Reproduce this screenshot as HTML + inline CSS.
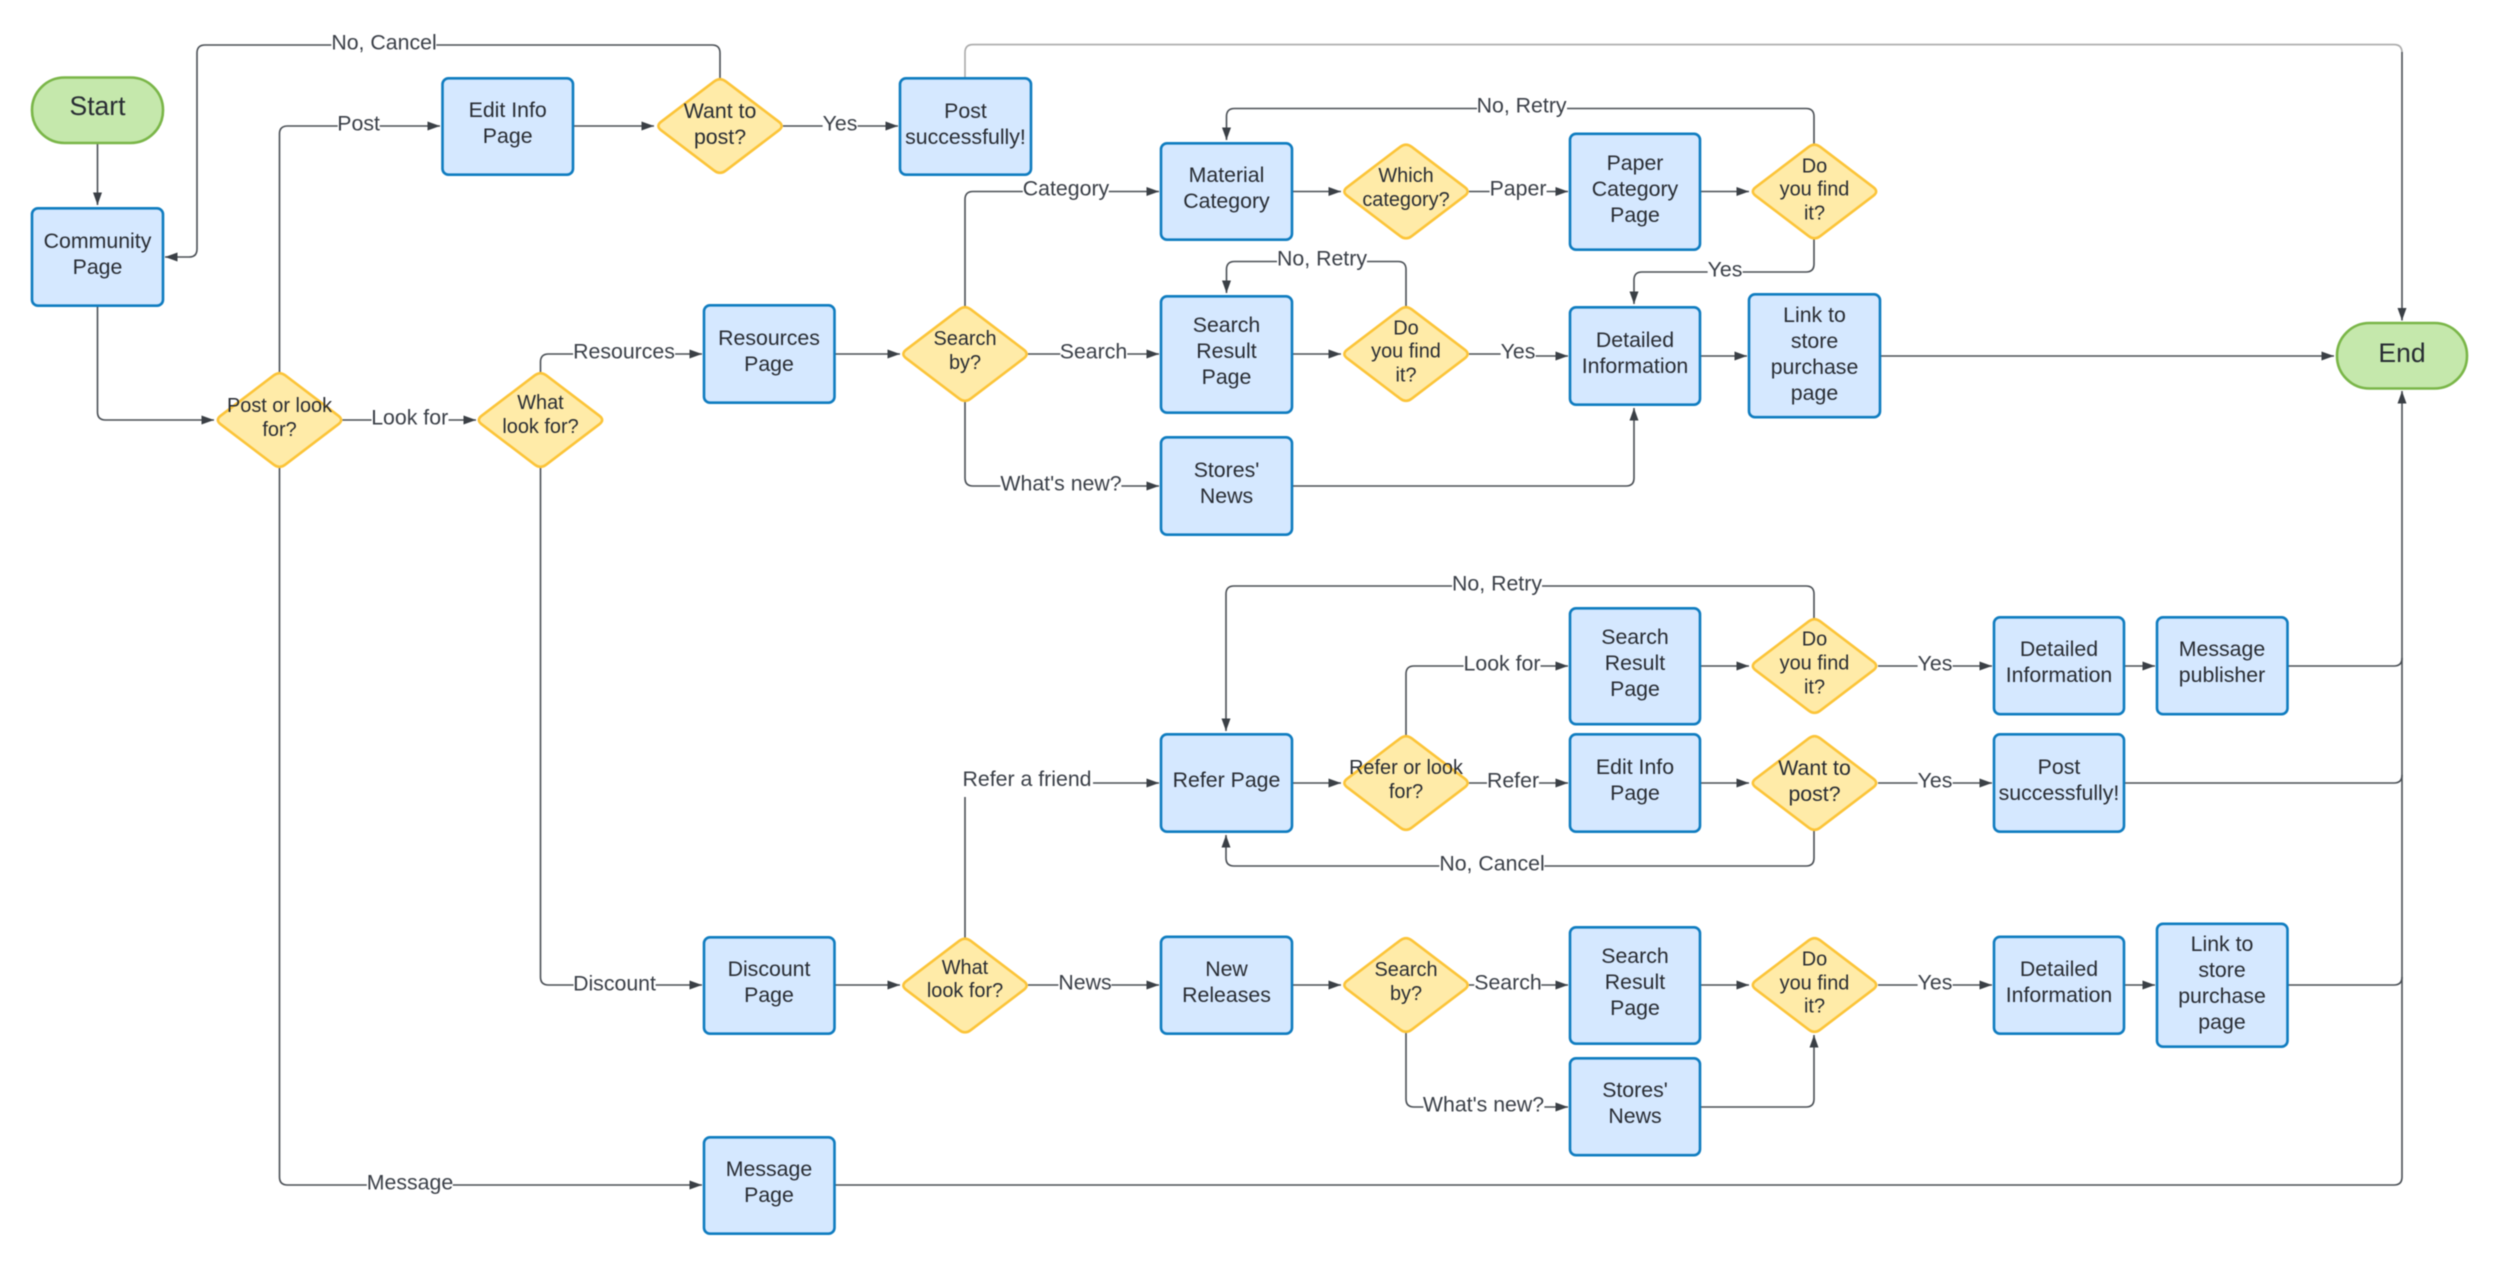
<!DOCTYPE html>
<html><head><meta charset="utf-8">
<style>
html,body{margin:0;padding:0;background:#fff}
#c{position:relative;width:2500px;height:1267px;overflow:hidden;background:#fff;font-family:"Liberation Sans",Arial,sans-serif;color:#282c33;filter:blur(.4px)}
svg{position:absolute;left:0;top:0}
.t,.l,.d,.s{position:absolute;transform:translate(-50%,-50%);text-align:center;white-space:nowrap}
.t{font-size:21.3px;line-height:26px}
.d{font-size:19.9px;line-height:23.8px}
.s{font-size:26.5px;line-height:30px}
.l{font-size:21.3px;line-height:25px;background:#fff;color:#3a3f47}
.b{fill:#d5e8ff;stroke:#0f7cc0;stroke-width:2.6}
.g{fill:#c5e8ac;stroke:#7ab648;stroke-width:2.6}
.y{fill:#ffeba8;stroke:#fcc438;stroke-width:2.6}
.c{fill:none;stroke:#4a4f55;stroke-width:1.6}
</style></head><body><div id="c">
<svg width="2500" height="1267" viewBox="0 0 2500 1267">
<defs>
<marker id="a" markerUnits="userSpaceOnUse" markerWidth="14" markerHeight="11" refX="12.5" refY="5" orient="auto"><path d="M0,0.5 L12.5,5 L0,9.5z" fill="#3a3f45"/></marker>
<path id="dm" d="M-5.7,-44.7 Q0,-49 5.7,-44.7 L58.800,-4.300 Q64.500,0 58.800,4.300 L5.7,44.7 Q0,49 -5.7,44.7 L-58.800,4.300 Q-64.500,0 -58.800,-4.300 Z"/>
</defs>
<!-- connectors -->
<path class="c" marker-end="url(#a)" d="M97.5,143 V205"/>
<path class="c" marker-end="url(#a)" d="M97.5,307 V412 Q97.5,420 105.5,420 H214"/>
<path class="c" marker-end="url(#a)" d="M279.5,372 V134 Q279.5,126 287.5,126 H440"/>
<path class="c" marker-end="url(#a)" d="M342.5,420 H476"/>
<path class="c" marker-end="url(#a)" d="M573,126 H654"/>
<path class="c" marker-end="url(#a)" d="M720,78 V53 Q720,45 712,45 H205 Q197,45 197,53 V249 Q197,257 189,257 H165"/>
<path class="c" marker-end="url(#a)" d="M783,126 H898"/>
<path class="c" style="stroke:#aaa" d="M965,77 V52.6 Q965,44.6 973,44.6 H2394 Q2402,44.6 2402,52.6"/>
<path class="c" marker-end="url(#a)" d="M2402,52 V320.5"/>
<path class="c" marker-end="url(#a)" d="M540.5,372 V362 Q540.5,354 548.5,354 H702"/>
<path class="c" marker-end="url(#a)" d="M540.5,468 V977 Q540.5,985 548.5,985 H702"/>
<path class="c" marker-end="url(#a)" d="M279.5,468 V1177 Q279.5,1185 287.5,1185 H702"/>
<path class="c" marker-end="url(#a)" d="M834,354 H900"/>
<path class="c" marker-end="url(#a)" d="M965,306 V199.5 Q965,191.5 973,191.5 H1159"/>
<path class="c" marker-end="url(#a)" d="M1028,354 H1159"/>
<path class="c" marker-end="url(#a)" d="M965,402 V478 Q965,486 973,486 H1159"/>
<path class="c" marker-end="url(#a)" d="M1292,191.5 H1341"/>
<path class="c" marker-end="url(#a)" d="M1469,191.5 H1568"/>
<path class="c" marker-end="url(#a)" d="M1700,191.5 H1749"/>
<path class="c" marker-end="url(#a)" d="M1814,144 V116.5 Q1814,108.5 1806,108.5 H1234.5 Q1226.5,108.5 1226.5,116.5 V140"/>
<path class="c" marker-end="url(#a)" d="M1814,239 V264 Q1814,272 1806,272 H1642 Q1634,272 1634,280 V304"/>
<path class="c" marker-end="url(#a)" d="M1292,354 H1341"/>
<path class="c" marker-end="url(#a)" d="M1406,306.5 V269.5 Q1406,261.5 1398,261.5 H1234.5 Q1226.5,261.5 1226.5,269.5 V293"/>
<path class="c" d="M1469,354 H1518"/>
<path class="c" marker-end="url(#a)" d="M1518,356 H1568"/>
<path class="c" marker-end="url(#a)" d="M1700,356 H1747"/>
<path class="c" marker-end="url(#a)" d="M1880,356 H2334"/>
<path class="c" marker-end="url(#a)" d="M1292,486 H1626 Q1634,486 1634,478 V408"/>
<path class="c" marker-end="url(#a)" d="M834.5,985 H900"/>
<path class="c" d="M965,938 V796"/>
<path class="c" marker-end="url(#a)" d="M1093,783 H1159"/>
<path class="c" marker-end="url(#a)" d="M1028,985 H1159"/>
<path class="c" marker-end="url(#a)" d="M1292,783 H1341"/>
<path class="c" marker-end="url(#a)" d="M1406,735 V674 Q1406,666 1414,666 H1568"/>
<path class="c" marker-end="url(#a)" d="M1469,783 H1568"/>
<path class="c" marker-end="url(#a)" d="M1700,666 H1749"/>
<path class="c" marker-end="url(#a)" d="M1814,618.6 V594 Q1814,586 1806,586 H1234 Q1226,586 1226,594 V731"/>
<path class="c" marker-end="url(#a)" d="M1878,666 H1992"/>
<path class="c" marker-end="url(#a)" d="M2124,666 H2155"/>
<path class="c" d="M2287.5,666 H2394 Q2402,666 2402,658"/>
<path class="c" marker-end="url(#a)" d="M1700,783 H1749"/>
<path class="c" marker-end="url(#a)" d="M1878,783 H1992"/>
<path class="c" d="M2124,783 H2394 Q2402,783 2402,775"/>
<path class="c" marker-end="url(#a)" d="M1814,830 V858 Q1814,866 1806,866 H1234 Q1226,866 1226,858 V835"/>
<path class="c" marker-end="url(#a)" d="M1292,985 H1341"/>
<path class="c" marker-end="url(#a)" d="M1469,985 H1568"/>
<path class="c" marker-end="url(#a)" d="M1700,985 H1749"/>
<path class="c" marker-end="url(#a)" d="M1878,985 H1992"/>
<path class="c" marker-end="url(#a)" d="M2124,985 H2155"/>
<path class="c" d="M2287,985 H2394 Q2402,985 2402,977"/>
<path class="c" marker-end="url(#a)" d="M1406,1033 V1099 Q1406,1107 1414,1107 H1568"/>
<path class="c" marker-end="url(#a)" d="M1700,1107 H1806 Q1814,1107 1814,1099 V1035"/>
<path class="c" marker-end="url(#a)" d="M834.5,1185 H2394 Q2402,1185 2402,1177 V391"/>
<!-- terminators -->
<rect class="g" x="32" y="77.500" width="131" height="65.500" rx="32.500" ry="32.500"/>
<rect class="g" x="2337" y="323" width="130" height="65.500" rx="32.500" ry="32.500"/>
<!-- boxes -->
<rect class="b" x="32" y="208.300" width="131" height="97.400" rx="6"/>
<rect class="b" x="442.500" y="78.300" width="130.500" height="96.400" rx="6"/>
<rect class="b" x="900" y="78.300" width="131" height="96.400" rx="6"/>
<rect class="b" x="704" y="305.300" width="130.500" height="97.400" rx="6"/>
<rect class="b" x="1161" y="143.300" width="131" height="96.400" rx="6"/>
<rect class="b" x="1570" y="133.800" width="130" height="115.900" rx="6"/>
<rect class="b" x="1161" y="296.300" width="131" height="116.400" rx="6"/>
<rect class="b" x="1570" y="307.300" width="130" height="97.400" rx="6"/>
<rect class="b" x="1749" y="294.300" width="131" height="122.900" rx="6"/>
<rect class="b" x="1161" y="437.300" width="131" height="97.400" rx="6"/>
<rect class="b" x="1161" y="734.300" width="131" height="97.400" rx="6"/>
<rect class="b" x="1570" y="608.300" width="130" height="115.900" rx="6"/>
<rect class="b" x="1994" y="617.300" width="130" height="96.900" rx="6"/>
<rect class="b" x="2157" y="617.300" width="130.500" height="96.900" rx="6"/>
<rect class="b" x="1570" y="734.300" width="130" height="97.400" rx="6"/>
<rect class="b" x="1994" y="734.300" width="130" height="97.400" rx="6"/>
<rect class="b" x="1161" y="936.800" width="131" height="96.900" rx="6"/>
<rect class="b" x="1570" y="927.300" width="130" height="116.400" rx="6"/>
<rect class="b" x="1994" y="936.800" width="130" height="96.900" rx="6"/>
<rect class="b" x="2157" y="923.800" width="130.500" height="122.900" rx="6"/>
<rect class="b" x="1570" y="1058.300" width="130" height="96.900" rx="6"/>
<rect class="b" x="704" y="937.300" width="130.500" height="96.400" rx="6"/>
<rect class="b" x="704" y="1137.300" width="130.500" height="96.400" rx="6"/>
<!-- diamonds -->
<use class="y" href="#dm" x="720" y="126"/>
<use class="y" href="#dm" x="279.500" y="420"/>
<use class="y" href="#dm" x="540.500" y="420"/>
<use class="y" href="#dm" x="965" y="354"/>
<use class="y" href="#dm" x="1406" y="191.500"/>
<use class="y" href="#dm" x="1814.500" y="191.500"/>
<use class="y" href="#dm" x="1406" y="354"/>
<use class="y" href="#dm" x="1814.500" y="666"/>
<use class="y" href="#dm" x="1406" y="783"/>
<use class="y" href="#dm" x="1814.500" y="783"/>
<use class="y" href="#dm" x="965" y="985.500"/>
<use class="y" href="#dm" x="1406" y="985"/>
<use class="y" href="#dm" x="1814.500" y="985"/>
</svg>

<div class="s" style="left:97.500px;top:106px">Start</div>
<div class="s" style="left:2402px;top:352.500px">End</div>

<div class="t" style="left:97.500px;top:253.600px">Community<br>Page</div>
<div class="t" style="left:507.700px;top:123px">Edit Info<br>Page</div>
<div class="t" style="left:965.500px;top:123.500px">Post<br>successfully!</div>
<div class="t" style="left:769px;top:350.600px">Resources<br>Page</div>
<div class="t" style="left:1226.500px;top:188.100px">Material<br>Category</div>
<div class="t" style="left:1635px;top:188.600px">Paper<br>Category<br>Page</div>
<div class="t" style="left:1226.500px;top:351.100px">Search<br>Result<br>Page</div>
<div class="t" style="left:1635px;top:352.600px">Detailed<br>Information</div>
<div class="t" style="left:1814.500px;top:353.500px">Link to<br>store<br>purchase<br>page</div>
<div class="t" style="left:1226.500px;top:482.600px">Stores'<br>News</div>
<div class="t" style="left:1226.500px;top:779.600px">Refer Page</div>
<div class="t" style="left:1635px;top:663px">Search<br>Result<br>Page</div>
<div class="t" style="left:2059px;top:662.400px">Detailed<br>Information</div>
<div class="t" style="left:2222px;top:662.400px">Message<br>publisher</div>
<div class="t" style="left:1635px;top:779.600px">Edit Info<br>Page</div>
<div class="t" style="left:2059px;top:779.600px">Post<br>successfully!</div>
<div class="t" style="left:1226.500px;top:981.900px">New<br>Releases</div>
<div class="t" style="left:1635px;top:982.100px">Search<br>Result<br>Page</div>
<div class="t" style="left:2059px;top:981.900px">Detailed<br>Information</div>
<div class="t" style="left:2222px;top:982.500px">Link to<br>store<br>purchase<br>page</div>
<div class="t" style="left:1635px;top:1103.400px">Stores'<br>News</div>
<div class="t" style="left:769px;top:982.100px">Discount<br>Page</div>
<div class="t" style="left:769px;top:1182.100px">Message<br>Page</div>

<div class="t" style="left:720px;top:123.700px">Want to<br>post?</div>
<div class="t" style="left:1814.500px;top:780.700px">Want to<br>post?</div>
<div class="d" style="left:279.500px;top:419px">Post or look<br>for?</div>
<div class="d" style="left:540.500px;top:416.300px">What<br>look for?</div>
<div class="d" style="left:965px;top:351.800px">Search<br>by?</div>
<div class="d" style="left:1406px;top:189.300px">Which<br>category?</div>
<div class="d" style="left:1814.500px;top:190.500px">Do<br>you find<br>it?</div>
<div class="d" style="left:1406px;top:352.500px">Do<br>you find<br>it?</div>
<div class="d" style="left:1814.500px;top:664px">Do<br>you find<br>it?</div>
<div class="d" style="left:1406px;top:780.800px">Refer or look<br>for?</div>
<div class="d" style="left:965px;top:980.500px">What<br>look for?</div>
<div class="d" style="left:1406px;top:982.800px">Search<br>by?</div>
<div class="d" style="left:1814.500px;top:983.800px">Do<br>you find<br>it?</div>

<div class="l" style="left:384px;top:42.600px">No, Cancel</div>
<div class="l" style="left:358.600px;top:123.600px">Post</div>
<div class="l" style="left:409.700px;top:417.600px">Look for</div>
<div class="l" style="left:840px;top:123.600px">Yes</div>
<div class="l" style="left:624px;top:351.600px">Resources</div>
<div class="l" style="left:614.500px;top:983.500px">Discount</div>
<div class="l" style="left:410px;top:1182.600px">Message</div>
<div class="l" style="left:1066px;top:189.100px">Category</div>
<div class="l" style="left:1093.500px;top:351.600px">Search</div>
<div class="l" style="left:1061px;top:483.600px">What's new?</div>
<div class="l" style="left:1518px;top:189.100px">Paper</div>
<div class="l" style="left:1521.600px;top:106.100px">No, Retry</div>
<div class="l" style="left:1725px;top:269.600px">Yes</div>
<div class="l" style="left:1322px;top:259.100px">No, Retry</div>
<div class="l" style="left:1518px;top:352px">Yes</div>
<div class="l" style="left:1027px;top:781.500px;height:30px">Refer a friend</div>
<div class="l" style="left:1085px;top:982.600px">News</div>
<div class="l" style="left:1502px;top:663.600px">Look for</div>
<div class="l" style="left:1513px;top:780.600px">Refer</div>
<div class="l" style="left:1497px;top:583.600px">No, Retry</div>
<div class="l" style="left:1935px;top:663.600px">Yes</div>
<div class="l" style="left:1935px;top:780.600px">Yes</div>
<div class="l" style="left:1492px;top:863.600px">No, Cancel</div>
<div class="l" style="left:1508px;top:982.600px">Search</div>
<div class="l" style="left:1935px;top:982.600px">Yes</div>
<div class="l" style="left:1483.500px;top:1104.600px">What's new?</div>
</div></body></html>
